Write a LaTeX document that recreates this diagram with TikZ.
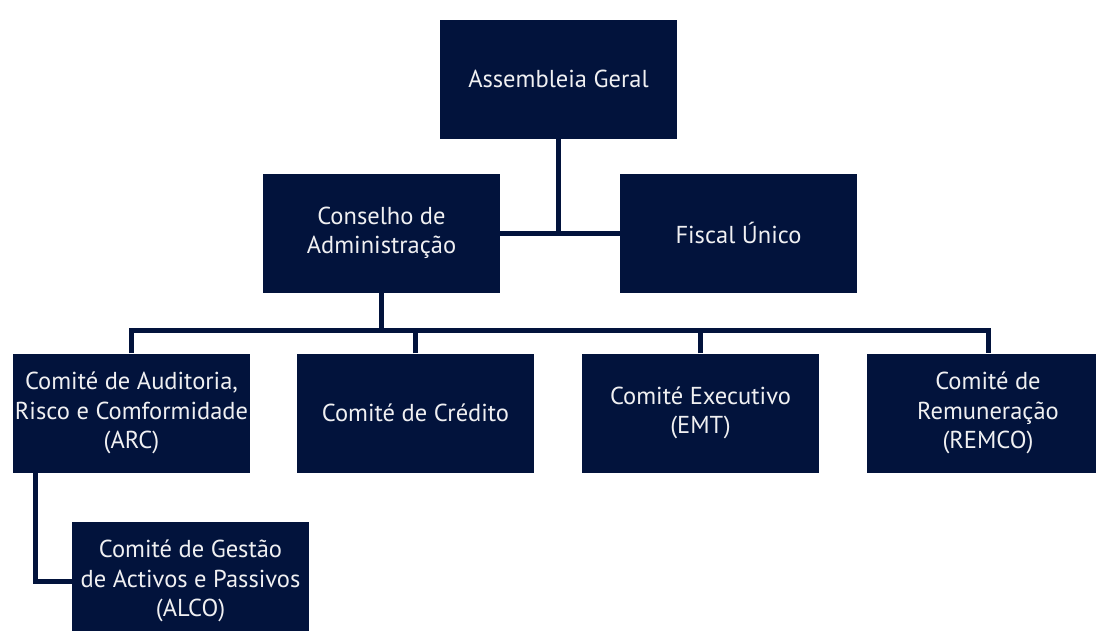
\documentclass[tikz,border=0pt]{standalone}
\usepackage{fontspec}
\setmainfont{PT Sans}
\usepackage{tikz}
\usetikzlibrary{positioning}
\definecolor{navy}{RGB}{2,19,60}
\definecolor{boxtext}{RGB}{240,240,242}

\begin{document}
\begin{tikzpicture}[x=1pt,y=-1pt,
	orgbox/.style={rectangle,fill=navy,text=boxtext,align=center,inner sep=0pt,
		minimum width=237pt,minimum height=119pt,font=\fontsize{24.5}{29.5}\selectfont},
	link/.style={draw=navy,line width=5pt}]
			\useasboundingbox (0,0) rectangle (1096,630);
			\node (ag) at (558.5,79) [orgbox] {Assembleia Geral};
			\node (ca) at (381.5,233) [orgbox] {Conselho de\\Administração};
			\node (fu) at (738.5,233) [orgbox] {Fiscal Único};
			\node (arc) at (131.5,413) [orgbox] {Comité de Auditoria,\\Risco e Comformidade\\(ARC)};
			\node (cred) at (415.5,413) [orgbox] {Comité de Crédito};
			\node (emt) at (700.5,413) [orgbox] {Comité Executivo\\(EMT)};
			\node (remco) at (988,413) [orgbox,minimum width=242pt] {Comité de\\Remuneração\\(REMCO)};
			\node (alco) at (190.5,581) [orgbox] {Comité de Gestão\\de Activos e Passivos\\(ALCO)};
			\coordinate (bus) at (0,330);
			\draw[link] (ag.south)--(ag.south |- ca.east);
			\draw[link] (ca.east)--(fu.west);
			\draw[link] (ca.south)--(ca.south |- bus);
			\draw[link] (arc.north)--(arc.north |- bus)--(remco.north |- bus)--(remco.north);
			\draw[link] (cred.north)--(cred.north |- bus);
			\draw[link] (emt.north)--(emt.north |- bus);
			\draw[link] ([xshift=22.5pt]arc.south west) |- (alco.west);
		\end{tikzpicture}
\end{document}
